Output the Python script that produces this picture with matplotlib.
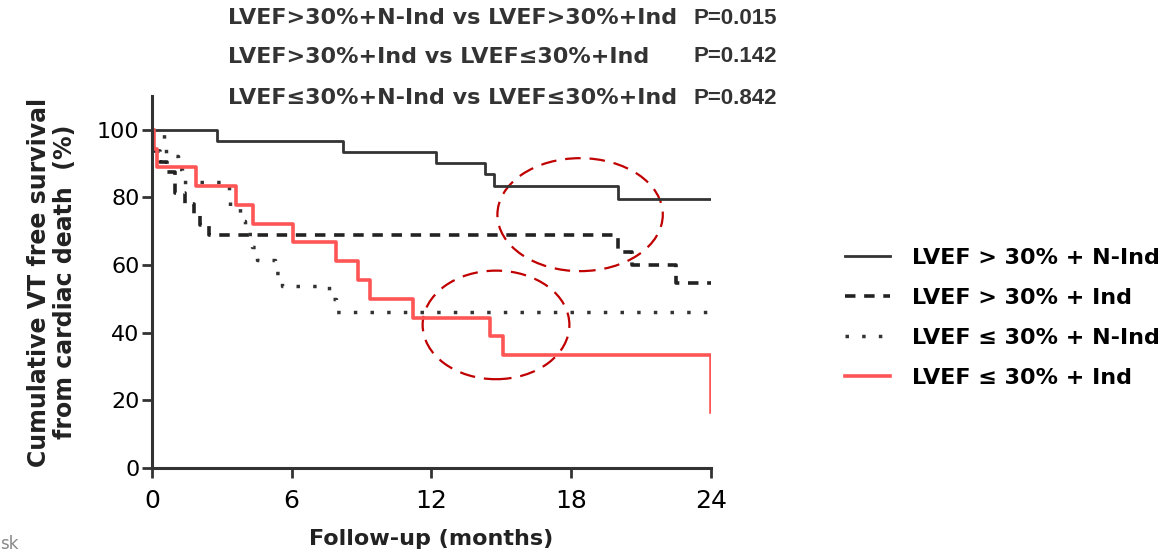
import matplotlib
import matplotlib.pyplot as plt
from matplotlib.patches import Ellipse

matplotlib.use('Agg')

# Kaplan-Meier curves (months, % survival)
nind_hi_t = [0, 2.8, 8.2, 12.2, 14.3, 14.7, 20.0, 24]
nind_hi_s = [100, 96.7, 93.4, 90.2, 86.9, 83.3, 79.5, 79.5]

ind_hi_t = [0, 0.05, 0.34, 0.65, 1.0, 1.4, 1.8, 2.05, 2.45, 20.0, 20.6, 22.5, 24]
ind_hi_s = [100, 93.8, 90.6, 87.5, 81.3, 78.1, 75.0, 71.9, 68.8, 64.0, 59.9, 54.8, 54.8]

nind_lo_t = [0, 0.5, 0.6, 1.1, 1.3, 3.3, 3.35, 3.8, 4.0, 4.3, 4.5, 5.3, 5.6, 7.6, 7.9, 24]
nind_lo_s = [100, 96.2, 92.3, 88.5, 84.6, 80.8, 76.9, 73.1, 69.2, 65.4, 61.5, 57.7, 53.8, 50.0, 46.2, 46.2]

ind_lo_t = [0, 0.1, 0.2, 1.9, 3.6, 4.35, 6.05, 7.9, 8.85, 9.35, 11.2, 14.5, 15.05, 24]
ind_lo_s = [100, 94.4, 88.9, 83.3, 77.8, 72.2, 66.7, 61.1, 55.6, 50.0, 44.4, 38.9, 33.3, 16.7]

labels = ['LVEF > 30% + N-Ind', 'LVEF > 30% + Ind', 'LVEF ≤ 30% + N-Ind', 'LVEF ≤ 30% + Ind']

comparisons = ['LVEF>30%+N-Ind vs LVEF>30%+Ind',
               'LVEF>30%+Ind vs LVEF≤30%+Ind',
               'LVEF≤30%+N-Ind vs LVEF≤30%+Ind']
p_values = ['P=0.015', 'P=0.142', 'P=0.842']

# highlighted regions (centre month, centre %, width, height)
circles = [(18.38, 74.9, 7.1, 33.4), (14.77, 42.3, 6.3, 32.1)]

fig = plt.figure(figsize=(11.61, 5.52), dpi=100)
ax = fig.add_axes([0.1309, 0.1522, 0.4815, 0.674])

ax.step(nind_hi_t, nind_hi_s, where='post', color='#333333', lw=2, label=labels[0])
ax.step(ind_hi_t, ind_hi_s, where='post', color='#222222', lw=2.6,
        linestyle=(0, (2.9, 2.4)), label=labels[1])
ax.step(nind_lo_t, nind_lo_s, where='post', color='#333333', lw=2.5,
        linestyle=(0, (1, 3.8)), label=labels[2])
ax.step(ind_lo_t, ind_lo_s, where='post', color='#ff5555', lw=2.6, label=labels[3])

for cx, cy, w, h in circles:
    ax.add_patch(Ellipse((cx, cy), w, h, fill=False, edgecolor='#c00000',
                         lw=1.6, linestyle=(0, (7, 4)), clip_on=False))

ax.set_xlim(0, 24)
ax.set_ylim(0, 110)
ax.set_xticks([0, 6, 12, 18, 24])
ax.set_yticks([0, 20, 40, 60, 80, 100])
ax.tick_params(axis='x', labelsize=18, length=7, width=2, color='#333333', pad=8)
ax.tick_params(axis='y', labelsize=16, length=7, width=2, color='#333333', pad=2)

for s in ['top', 'right']:
    ax.spines[s].set_visible(False)
for s in ['left', 'bottom']:
    ax.spines[s].set_linewidth(2.2)
    ax.spines[s].set_color('#333333')

ax.set_xlabel('Follow-up (months)', fontsize=16, fontweight='bold', color='#222222', labelpad=12)
ax.set_ylabel('Cumulative VT free survival\nfrom cardiac death  (%)', fontsize=17,
              fontweight='bold', color='#222222', labelpad=14, linespacing=1.15)

ax.legend(loc='center left', bbox_to_anchor=(0.728, 0.424), bbox_transform=fig.transFigure,
          frameon=False, handlelength=2.0, handletextpad=1.0,
          labelspacing=0.9, borderpad=0, borderaxespad=0,
          prop={'weight': 'bold', 'size': 16})

rows_y = [0.967, 0.897, 0.822]
for txt, p, y in zip(comparisons, p_values, rows_y):
    fig.text(0.196, y, txt, fontsize=16, fontweight='bold', color='#333333', va='center')
    fig.text(0.597, y, p, fontsize=16, fontweight='bold', color='#333333', va='center',
             family='Liberation Sans')

fig.text(0.0, 0.005, 'sk', fontsize=12, color='#888888')

plt.savefig('out.png', dpi=100)
